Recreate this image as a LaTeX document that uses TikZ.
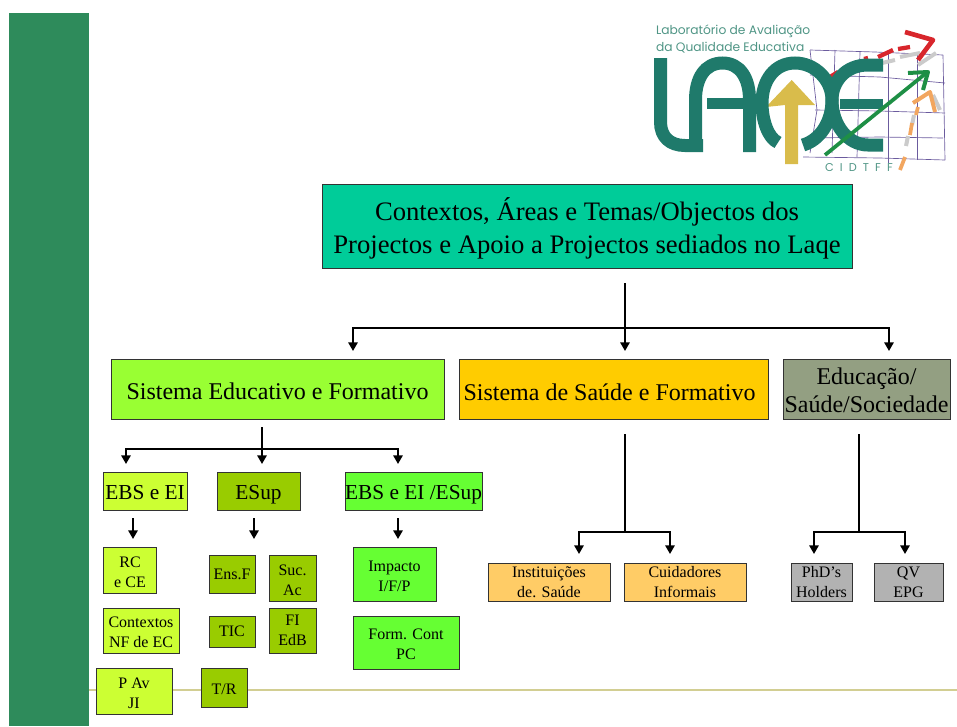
\documentclass[tikz,border=0pt]{standalone}
\usepackage{fontspec}
\setmainfont{Liberation Serif}
\newfontfamily\logofont{Poppins}
\usetikzlibrary{arrows.meta}
\newcommand{\lowered}[2]{\raisebox{-#1}[0pt][0pt]{#2}}
\tikzset{
  sz/.style 2 args={minimum width=#1*0.75pt,minimum height=#2*0.75pt},
  blok/.style={draw=black!80,line width=0.75pt,inner sep=0pt,outer sep=0pt,align=center,text=black},
  bigtxt/.style={font=\fontsize{20}{24.7}\selectfont},
  midtxt/.style={font=\fontsize{18}{21}\selectfont},
  hdtxt/.style={font=\fontsize{16}{19}\selectfont},
  smtxt/.style={font=\fontsize{12}{15}\selectfont},
  twolines/.style={smtxt,text height=26pt},
  stem/.style={line width=1.5pt,black},
  link/.style={line width=1.5pt,black,-{Triangle[length=6.5pt,width=7pt]}},
  logostroke/.style={draw=laqeteal,line width=9.75pt},
  griddy/.style={draw=laqegrid,line width=0.5pt},
  logotxt/.style={text=laqetxt,inner sep=0pt,outer sep=0pt}
}
\definecolor{panel}{HTML}{2E8B5B}
\definecolor{ruleline}{HTML}{D2CE92}
\definecolor{cTitle}{HTML}{00CC99}
\definecolor{cEdu}{HTML}{99FF33}
\definecolor{cSau}{HTML}{FFCC00}
\definecolor{cSoc}{HTML}{939F82}
\definecolor{cEbs}{HTML}{CCFF33}
\definecolor{cEsu}{HTML}{99CC00}
\definecolor{cMix}{HTML}{66FF33}
\definecolor{cIns}{HTML}{FFCC66}
\definecolor{cPhd}{HTML}{B2B2B2}
\definecolor{laqeteal}{HTML}{1F7A6B}
\definecolor{laqetxt}{HTML}{4F9585}
\definecolor{laqegrid}{HTML}{6B5B9E}
\definecolor{laqeyel}{HTML}{D9BC4B}
\definecolor{laqered}{HTML}{D8262C}
\definecolor{laqegrn}{HTML}{1E8F45}
\definecolor{laqeorg}{HTML}{F2A65F}
\definecolor{laqegry}{HTML}{CBCBCB}
\begin{document}
\begin{tikzpicture}[x=0.75pt,y=-0.75pt]
\useasboundingbox (0,0) rectangle (957,726);
\fill[panel] (9,13) rectangle (89,726);
\draw[ruleline,line width=1pt] (89,690) -- (957,690);

\begin{scope}
\draw[griddy] (810,50) -- (875,52) -- (943,55);
\draw[griddy] (810,75) -- (880,77) -- (945,83);
\draw[griddy] (815,110) -- (880,111) -- (945,113);
\draw[griddy] (807,138) -- (880,137) -- (943,138);
\draw[griddy] (803,157) -- (880,158) -- (945,160);
\draw[griddy] (810,50) -- (817,110) -- (810,153);
\draw[griddy] (835,50) -- (832,153);
\draw[griddy] (860,52) -- (857,157);
\draw[griddy] (888,53) -- (888,163);
\draw[griddy] (917,54) -- (917,160);
\draw[griddy] (943,55) -- (945,160);
\draw[laqegry,line width=3pt] (882,63) -- (895,60) (900,57) -- (920,53) (918,65) -- (936,53);
\draw[laqegry,line width=3pt] (933,95) -- (940,110) (912,125) -- (914,115) (906,146) -- (908,136);
\draw[laqered,line width=3.2pt] (830,77) -- (838,72) (864,59) -- (868,58) (878,57) -- (893,50) (898,49) -- (910,47);
\draw[laqered,line width=3.5pt,line join=round] (905,32) -- (933,40) -- (918,60);
\fill[laqeyel] (791.7,80) -- (815,105) -- (798,105) -- (798,164) -- (785,164) -- (785,105) -- (766,107) -- cycle;
\draw[logostroke] (660.5,58) -- (660.5,122) .. controls (660.5,137) and (670,145.5) .. (685,145.5) -- (703,145.5);
\draw[logostroke] (695.5,145) -- (695.5,100) .. controls (695.5,78) and (705,63) .. (722.5,63) .. controls (740,63) and (749.5,78) .. (749.5,100) -- (749.5,152);
\draw[laqeteal,line width=8pt] (707,103.5) -- (750,103.5);
\draw[logostroke] (778,142.5) .. controls (768,138) and (762,120) .. (762,103) .. controls (762,80) and (775,63) .. (795,63) .. controls (815,63) and (832,80) .. (832,100) .. controls (832,122) and (820,140) .. (803,145);
\draw[logostroke] (883,65) -- (868,65) .. controls (845,65) and (832,82) .. (832,100) .. controls (832,125) and (848,145) .. (868,145) -- (883,145);
\draw[laqeteal,line width=8pt] (840,104) -- (883,104);
\draw[laqegrn,line width=2.8pt] (825,155) -- (925,74);
\draw[laqegrn,line width=3pt,line join=round] (908,73) -- (928,72) -- (923,90);
\draw[laqeorg,line width=2.8pt] (900,170) -- (905,157) (910,135) -- (912,123) (916,115) -- (918,107);
\draw[laqeorg,line width=3pt,line join=round] (913,103) -- (930,92) -- (935,112);
\node[logotxt,font=\logofont\fontsize{9.2}{10}\selectfont,anchor=west] (labl) at (656,31) {Laboratório de Avaliação};
\node[logotxt,font=\logofont\fontsize{9.2}{10}\selectfont,anchor=west] (labq) at (656,48) {da Qualidade Educativa};
\node[logotxt,font=\logofont\fontsize{8.5}{9}\selectfont\addfontfeature{LetterSpace=54},anchor=west] (cidt) at (825,168) {CIDTFF};
\end{scope}

\node[blok,sz={530}{84},fill=cTitle,bigtxt,text height=46pt] (title) at (587,226) {Contextos, Áreas e Temas/Objectos dos\\Projectos e Apoio a Projectos sediados no Laqe};
\node[blok,sz={333}{60},fill=cEdu,midtxt] (edu) at (277.5,389) {\lowered{7.5pt}{Sistema Educativo e Formativo}};
\node[blok,sz={309}{60},fill=cSau,midtxt] (sau) at (613.5,389) {\lowered{8.5pt}{\hspace*{-6pt}Sistema de Saúde e Formativo}};
\node[blok,sz={167}{60},fill=cSoc,midtxt,text height=35pt] (soc) at (866.5,389) {Educação/\\Saúde/Sociedade};

\node[blok,sz={84}{38},fill=cEbs,hdtxt] (ebs) at (145,491) {\lowered{6pt}{EBS e EI}};
\node[blok,sz={83}{38},fill=cEsu,hdtxt] (esu) at (258.5,491) {\lowered{6pt}{ESup}};
\node[blok,sz={137}{38},fill=cMix,hdtxt] (mix) at (413.5,491) {\lowered{6pt}{EBS e EI /ESup}};

\node[blok,sz={53}{46},fill=cEbs,twolines] (rc) at (130,570) {RC\\e CE};
\node[blok,sz={76}{45},fill=cEbs,twolines] (ctx) at (141,630.5) {Contextos\\NF de EC};
\node[blok,sz={76}{46},fill=cEbs,twolines] (pav) at (134,691) {P Av\\JI};
\node[blok,sz={46}{38},fill=cEsu,smtxt] (ens) at (232,574) {Ens.F};
\node[blok,sz={47}{46},fill=cEsu,twolines] (suc) at (292.5,578) {Suc.\\Ac};
\node[blok,sz={46}{31},fill=cEsu,smtxt] (tic) at (232,631.5) {TIC};
\node[blok,sz={47}{45},fill=cEsu,smtxt] (fi) at (292.5,630.5) {FI\\EdB};
\node[blok,sz={46}{39},fill=cEsu,smtxt] (tr) at (224,687.5) {\lowered{5.6pt}{T/R}};
\node[blok,sz={83}{54},fill=cMix,twolines] (imp) at (394.5,574) {Impacto\\I/F/P};
\node[blok,sz={106}{53},fill=cMix,twolines] (frm) at (406,642.5) {Form. Cont\\PC};
\node[blok,sz={122}{38},fill=cIns,smtxt] (ins) at (549,582) {Instituições\\de. Saúde};
\node[blok,sz={122}{38},fill=cIns,smtxt] (cui) at (685,582) {Cuidadores\\Informais};
\node[blok,sz={61}{38},fill=cPhd,smtxt] (phd) at (821.5,582) {PhD’s\\Holders};
\node[blok,sz={69}{38},fill=cPhd,smtxt] (qv) at (908.5,582) {QV\\EPG};

\coordinate (topj) at (625,328);
\coordinate (topl) at (353,328);
\coordinate (topr) at (889,328);
\draw[link,shorten <=11.25pt,shorten >=6pt] (title.south -| topj) -- (topj |- sau.north);
\draw[link,shorten >=6pt] (topj) -- (topl) -- (topl |- edu.north);
\draw[link,shorten >=6pt] (topj) -- (topr) -- (topr |- soc.north);

\coordinate (eduj) at (262,449);
\coordinate (edul) at (126,449);
\coordinate (edur) at (398,449);
\draw[link,shorten <=6pt,shorten >=6pt] (eduj |- edu.south) -- (eduj |- esu.north);
\draw[link,shorten >=6pt] (eduj) -- (edul) -- (edul |- ebs.north);
\draw[link,shorten >=6pt] (eduj) -- (edur) -- (edur |- mix.north);

\coordinate (ebsd) at (133,528);
\coordinate (esud) at (254,528);
\coordinate (mixd) at (398,528);
\draw[link,shorten <=6pt,shorten >=6pt] (ebsd |- ebs.south) -- (ebsd |- rc.north);
\draw[link,shorten <=6pt,shorten >=12pt] (esud |- esu.south) -- (esud |- ens.north);
\draw[link,shorten <=6pt,shorten >=6pt] (mixd |- mix.south) -- (mixd |- imp.north);

\coordinate (sauj) at (625,532);
\coordinate (saul) at (579,532);
\coordinate (saur) at (670,532);
\draw[stem,shorten <=11.25pt] (sauj |- sau.south) -- (sauj);
\draw[link,shorten >=6.75pt] (sauj) -- (saul) -- (saul |- ins.north);
\draw[link,shorten >=6.75pt] (sauj) -- (saur) -- (saur |- cui.north);

\coordinate (socj) at (859,532);
\coordinate (socl) at (814,532);
\coordinate (socr) at (905,532);
\draw[stem,shorten <=11.25pt] (socj |- soc.south) -- (socj);
\draw[link,shorten >=6.75pt] (socj) -- (socl) -- (socl |- phd.north);
\draw[link,shorten >=6.75pt] (socj) -- (socr) -- (socr |- qv.north);
\end{tikzpicture}
\end{document}
